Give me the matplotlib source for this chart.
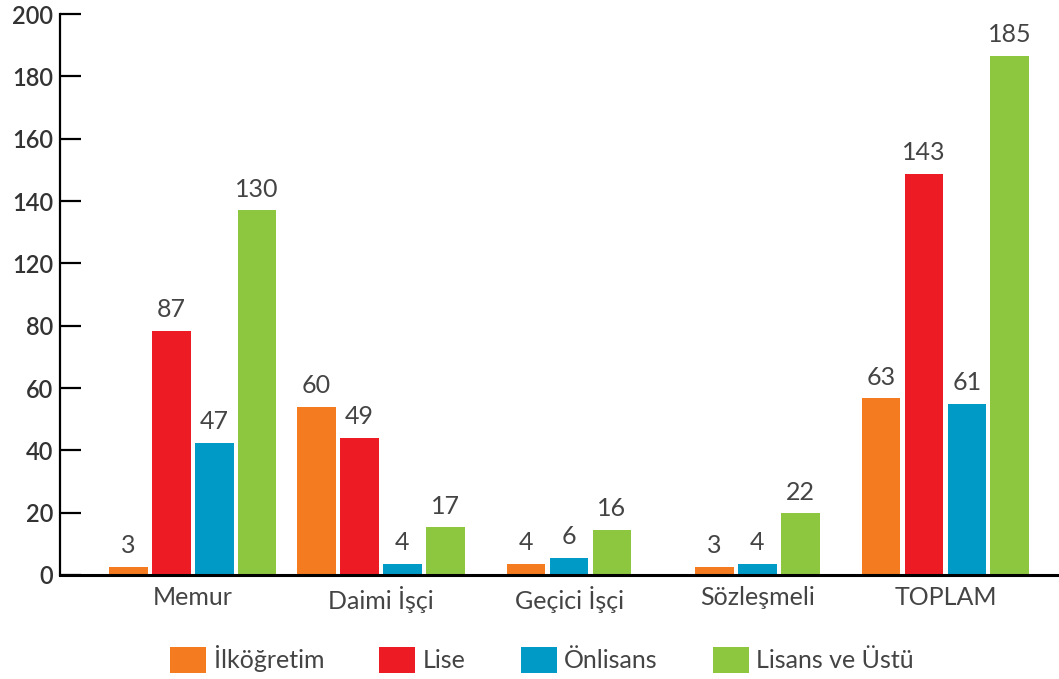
import numpy as np
import matplotlib
matplotlib.use('Agg')
import matplotlib.pyplot as plt
from matplotlib.patches import Patch

plt.rcParams['font.family'] = ['Lato', 'DejaVu Sans']

# 数据
categories = ['Memur', 'Daimi İşçi', 'Geçici İşçi', 'Sözleşmeli', 'TOPLAM']
series_names = ['İlköğretim', 'Lise', 'Önlisans', 'Lisans ve Üstü']
ilkogretim = [3, 60, 4, 3, 63]
lise = [87, 49, None, None, 143]
onlisans = [47, 4, 6, 4, 61]
lisans_ustu = [130, 17, 16, 22, 185]
ytick_labels = ['0', '20', '40', '60', '80', '120', '140', '160', '180', '200']

colors = ['#F47B20', '#ED1C24', '#009AC7', '#8DC63F']
series = [ilkogretim, lise, onlisans, lisans_ustu]

fig = plt.figure(figsize=(10.59, 6.79), dpi=100)
ax = fig.add_axes([60 / 1059, 104 / 679, 999 / 1059, 561 / 679])

pitch = 0.2284
width = 0.207
text_color = '#444444'

for i, cat in enumerate(categories):
    # 跳过空值，其余柱子在组内居中
    present = [(k, s[i]) for k, s in enumerate(series) if s[i] is not None]
    n = len(present)
    for j, (k, v) in enumerate(present):
        x = i + (j - (n - 1) / 2) * pitch
        ax.bar(x, v, width=width, color=colors[k], linewidth=0)
        ax.annotate(str(v), (x, v), xytext=(0, 7), textcoords='offset points',
                    ha='center', va='bottom', fontsize=18, color=text_color)

ax.set_xlim(-0.704, 4.603)
ax.set_ylim(0, 200)
ax.set_yticks(np.linspace(0, 200, 10))
ax.set_yticklabels(ytick_labels, fontsize=17, fontweight='semibold', color='#333333')
ax.set_xticks(range(len(categories)))
ax.set_xticklabels(categories, fontsize=18, color=text_color)

ax.tick_params(axis='y', direction='in', length=15, width=1.6, color='black', pad=5)
ax.tick_params(axis='x', length=0, pad=8)

for side in ['top', 'right']:
    ax.spines[side].set_visible(False)
ax.spines['left'].set_linewidth(1.6)
ax.spines['bottom'].set_linewidth(2.2)
ax.spines['left'].set_color('black')
ax.spines['bottom'].set_color('black')

handles = [Patch(facecolor=c, edgecolor='none') for c in colors]
fig.legend(handles, series_names, loc='center', bbox_to_anchor=(542 / 1059, 1 - 659 / 679),
           ncol=4, frameon=False, fontsize=18, labelcolor=text_color,
           handlelength=1.44, handleheight=1.24, handletextpad=0.3, columnspacing=2.2)

fig.savefig('out.png', dpi=100)
